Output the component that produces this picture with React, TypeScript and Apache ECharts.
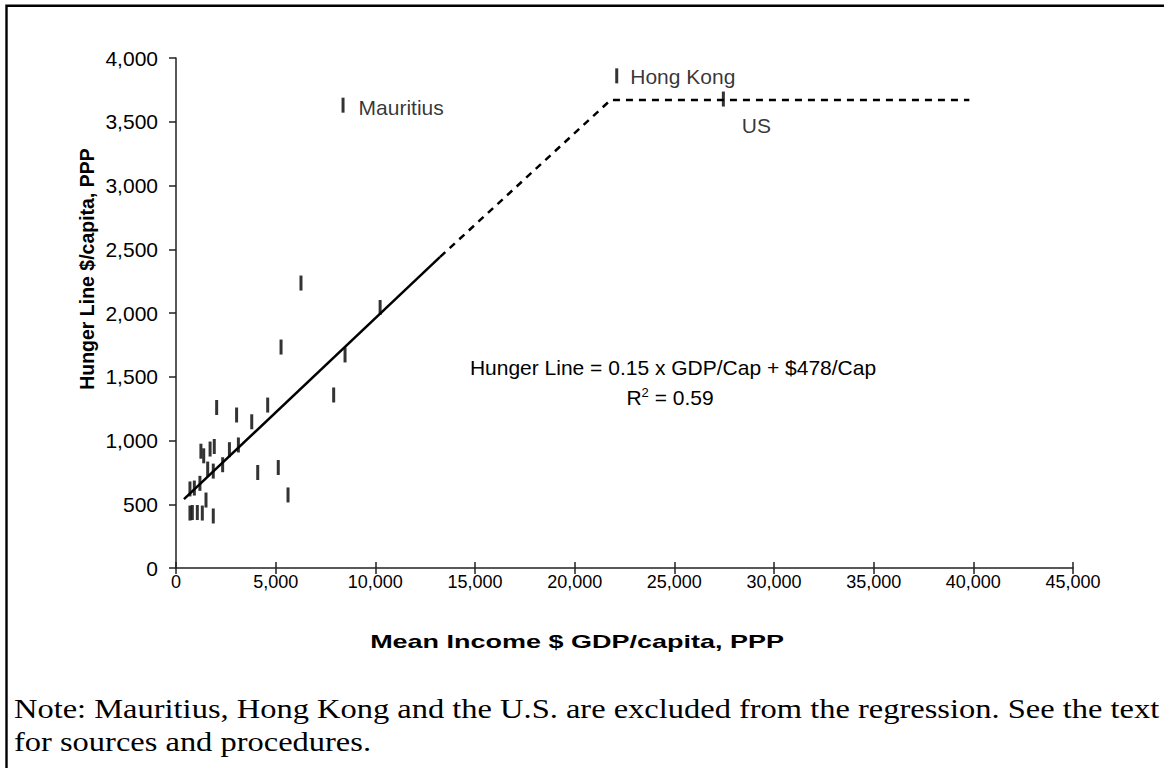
import React, { useEffect, useRef } from "react";
import * as echarts from "echarts";

// Regression sample: mean income (GDP/capita, PPP) and hunger line ($/capita, PPP)
const incomeX = [5270, 8480, 7910, 2040, 3040, 3800, 4600, 1250, 1390, 1710, 1920, 2680, 3130, 1590, 1870, 2340, 4100, 5130, 5620, 700, 920, 1200, 1505, 700, 820, 1070, 1320, 1870, 6270, 10240];
const hungerY = [1733, 1671, 1357, 1259, 1200, 1147, 1278, 916, 880, 933, 953, 928, 965, 776, 760, 810, 749, 788, 573, 620, 627, 664, 533, 431, 435, 435, 431, 408, 2235, 2043];

// Excluded countries
const outlierNames = ["Mauritius", "Hong Kong", "US"];
const outlierX = [8380, 22110, 27460];
const outlierY = [3630, 3860, 3678];

// Fitted line (solid) and its extension (dashed)
const fitX = [400, 13250];
const fitY = [540, 2440];
const extX = [13250, 21800, 39800];
const extY = [2440, 3670, 3670];

const xTicks = { min: 0, max: 45000, interval: 5000 };
const yTicks = { min: 0, max: 4000, interval: 500 };

const xTitle = "Mean Income $ GDP/capita, PPP";
const yTitle = "Hunger Line $/capita, PPP";
const eqText = "Hunger Line = 0.15 x GDP/Cap + $478/Cap";
const r2Text = "R{s|2} = 0.59";
const noteLine1 = "Note: Mauritius, Hong Kong and the U.S. are excluded from the regression. See the text";
const noteLine2 = "for sources and procedures.";

const SANS = "Liberation Sans";
const SERIF = "Liberation Serif";

const fmt = (v: number) => v.toLocaleString("en-US");

export default function App() {
  const ref = useRef<HTMLDivElement>(null);
  useEffect(() => {
    if (!ref.current) return;
    const chart = echarts.init(ref.current, null, { renderer: "svg" });
    const labelPos: Record<string, any> = {
      Mauritius: { position: "right", distance: 14, offset: [0, 2] },
      "Hong Kong": { position: "right", distance: 12, offset: [0, 1] },
      US: { position: "right", distance: 17, offset: [0, 26] },
    };
    chart.setOption({
      animation: false,
      backgroundColor: "#ffffff",
      grid: { left: 176, right: 91, top: 58, bottom: 200, containLabel: false },
      xAxis: [
        {
          type: "value",
          ...xTicks,
          axisLine: { show: true, lineStyle: { color: "#222", width: 1.5 } },
          axisTick: { show: true, inside: false, length: 6, lineStyle: { color: "#222", width: 1.5 } },
          axisLabel: { margin: 5, fontFamily: SANS, fontSize: 18, color: "#000", formatter: (v: number) => fmt(v) },
          splitLine: { show: false },
        },
        {
          type: "value",
          position: "bottom",
          ...xTicks,
          axisLine: { show: false },
          axisTick: { show: true, inside: true, length: 6, lineStyle: { color: "#222", width: 1.5 } },
          axisLabel: { show: false },
          splitLine: { show: false },
        },
      ],
      yAxis: {
        type: "value",
        ...yTicks,
        axisLine: { show: true, lineStyle: { color: "#222", width: 1.5 } },
        axisTick: { show: true, inside: false, length: 7, lineStyle: { color: "#222", width: 1.5 } },
        axisLabel: { margin: 18, fontFamily: SANS, fontSize: 21, color: "#000", formatter: (v: number) => fmt(v) },
        splitLine: { show: false },
      },
      series: [
        {
          type: "line",
          data: fitX.map((x, i) => [x, fitY[i]]),
          showSymbol: false,
          symbol: "none",
          lineStyle: { color: "#000", width: 2.5 },
          z: 3,
        },
        {
          type: "line",
          data: extX.map((x, i) => [x, extY[i]]),
          showSymbol: false,
          symbol: "none",
          lineStyle: { color: "#000", width: 2.5, type: [7, 6] },
          z: 3,
        },
        {
          type: "scatter",
          data: incomeX.map((x, i) => [x, hungerY[i]]),
          symbol: "rect",
          symbolSize: [3, 15],
          itemStyle: { color: "#000" },
          z: 4,
        },
        {
          type: "scatter",
          data: outlierNames.map((n, i) => ({
            name: n,
            value: [outlierX[i], outlierY[i]],
            label: {
              show: true,
              formatter: n,
              fontFamily: SANS,
              fontSize: 21,
              color: "#000",
              ...labelPos[n],
            },
          })),
          symbol: "rect",
          symbolSize: [3, 15],
          itemStyle: { color: "#000" },
          z: 4,
        },
      ],
      graphic: [
        {
          type: "rect",
          shape: { x: 6.5, y: 5.7, width: 1300, height: 900 },
          style: { fill: "none", stroke: "#000", lineWidth: 2.4 },
          silent: true,
        },
        {
          type: "text",
          x: 577,
          y: 641,
          scaleX: 1.42,
          style: { text: xTitle, fontFamily: SANS, fontWeight: "bold", fontSize: 19, fill: "#000", align: "center", verticalAlign: "middle" },
        },
        {
          type: "text",
          x: 87,
          y: 269,
          rotation: Math.PI / 2,
          style: { text: yTitle, fontFamily: SANS, fontWeight: "bold", fontSize: 19.5, fill: "#000", align: "center", verticalAlign: "middle" },
        },
        {
          type: "text",
          x: 673,
          y: 367,
          style: { text: eqText, fontFamily: SANS, fontSize: 21, fill: "#000", align: "center", verticalAlign: "middle" },
        },
        {
          type: "text",
          x: 670,
          y: 397,
          style: {
            text: r2Text,
            fontFamily: SANS,
            fontSize: 21,
            fill: "#000",
            align: "center",
            verticalAlign: "middle",
            rich: { s: { fontFamily: SANS, fontSize: 13, verticalAlign: "top", padding: [0, 0, 10, 0] } },
          },
        },
        {
          type: "text",
          x: 14,
          y: 709,
          scaleX: 1.16,
          style: { text: noteLine1, fontFamily: SERIF, fontSize: 28, fill: "#000", align: "left", verticalAlign: "middle" },
        },
        {
          type: "text",
          x: 14,
          y: 742,
          scaleX: 1.16,
          style: { text: noteLine2, fontFamily: SERIF, fontSize: 28, fill: "#000", align: "left", verticalAlign: "middle" },
        },
      ],
    });
    return () => chart.dispose();
  }, []);
  return <div ref={ref} style={{ position: "absolute", left: 0, top: 0, width: 1164, height: 768 }} />;
}
